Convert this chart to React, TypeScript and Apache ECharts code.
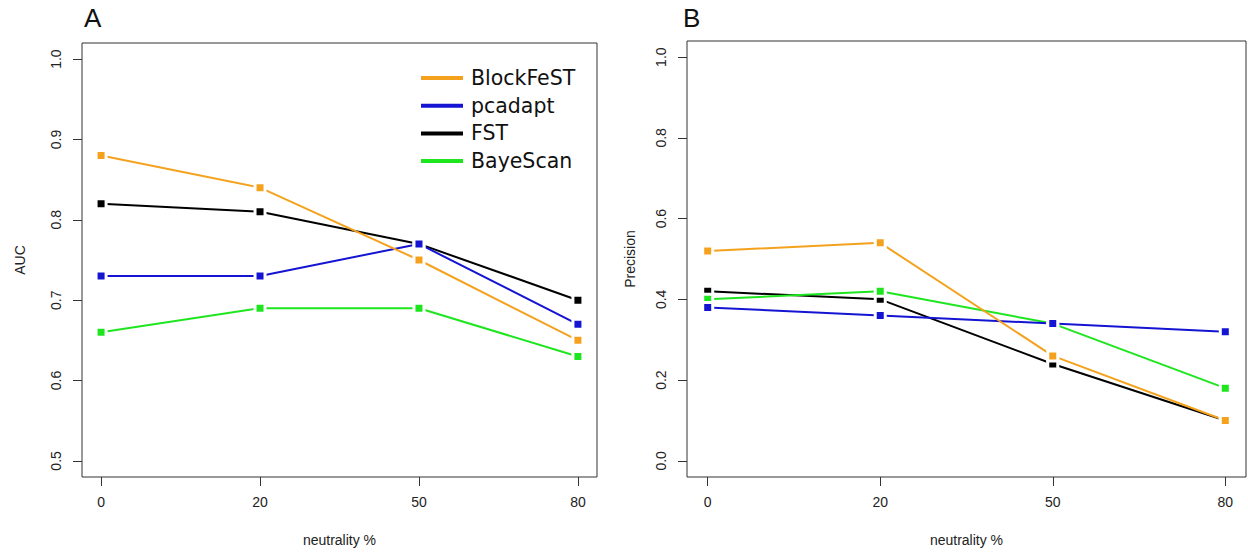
import React, { useEffect, useRef } from "react";
import * as echarts from "echarts";

// neutrality levels along the x axis (plotted at positions 1..4)
const neutrality = ["0", "20", "50", "80"];
const xPositions = [1, 2, 3, 4];

const methods = ["BlockFeST", "pcadapt", "FST", "BayeScan"];
const methodColors: Record<string, string> = {
  BlockFeST: "#f4a21e",
  pcadapt: "#1414d2",
  FST: "#000000",
  BayeScan: "#1ee61e",
};
// drawing order (later ones sit on top)
const drawOrder = ["FST", "BayeScan", "pcadapt", "BlockFeST"];

// Panel A: AUC
const aucBlockFeST = [0.88, 0.84, 0.75, 0.65];
const aucPcadapt = [0.73, 0.73, 0.77, 0.67];
const aucFST = [0.82, 0.81, 0.77, 0.7];
const aucBayeScan = [0.66, 0.69, 0.69, 0.63];
const aucTicks = [0.5, 0.6, 0.7, 0.8, 0.9, 1.0];

// Panel B: Precision
const precBlockFeST = [0.52, 0.54, 0.26, 0.1];
const precPcadapt = [0.38, 0.36, 0.34, 0.32];
const precFST = [0.42, 0.4, 0.24, 0.1];
const precBayeScan = [0.4, 0.42, 0.34, 0.18];
const precTicks = [0.0, 0.2, 0.4, 0.6, 0.8, 1.0];

const aucData: Record<string, number[]> = {
  BlockFeST: aucBlockFeST,
  pcadapt: aucPcadapt,
  FST: aucFST,
  BayeScan: aucBayeScan,
};
const precData: Record<string, number[]> = {
  BlockFeST: precBlockFeST,
  pcadapt: precPcadapt,
  FST: precFST,
  BayeScan: precBayeScan,
};

const AXIS_FONT = "'Liberation Sans', Arial, sans-serif";
const LEGEND_FONT = "'DejaVu Sans', sans-serif";
const INK = "#333333";

function xAxis(gridIndex: number) {
  return {
    type: "value",
    gridIndex,
    min: 0.88,
    max: 4.12,
    axisLine: { show: false, onZero: false },
    splitLine: { show: false },
    axisTick: {
      show: true,
      customValues: xPositions,
      length: 9,
      lineStyle: { color: INK, width: 1 },
    },
    axisLabel: {
      customValues: xPositions,
      formatter: (v: number) => neutrality[Math.round(v) - 1] ?? "",
      margin: 18,
      fontSize: 14,
      color: "#222",
      fontFamily: AXIS_FONT,
    },
    name: "neutrality %",
    nameLocation: "middle",
    nameGap: 56,
    nameTextStyle: { fontSize: 14, color: "#222", fontFamily: AXIS_FONT },
  };
}

function yAxis(gridIndex: number, min: number, max: number, ticks: number[], name: string, nameGap: number) {
  return {
    type: "value",
    gridIndex,
    min,
    max,
    axisLine: { show: false, onZero: false },
    splitLine: { show: false },
    axisTick: {
      show: true,
      customValues: ticks,
      length: 9,
      lineStyle: { color: INK, width: 1 },
    },
    axisLabel: {
      customValues: ticks,
      formatter: (v: number) => v.toFixed(1),
      rotate: 90,
      margin: 19,
      fontSize: 14,
      color: "#222",
      fontFamily: AXIS_FONT,
    },
    name,
    nameLocation: "middle",
    nameGap,
    nameTextStyle: { fontSize: 14, color: "#222", fontFamily: AXIS_FONT },
  };
}

function makeSeries(values: Record<string, number[]>, axisIndex: number) {
  return drawOrder.map((m) => ({
    type: "line",
    name: m,
    xAxisIndex: axisIndex,
    yAxisIndex: axisIndex,
    data: values[m].map((v, i) => [xPositions[i], v]),
    symbol: "rect",
    symbolSize: 10,
    showSymbol: true,
    lineStyle: { color: methodColors[m], width: 2 },
    itemStyle: { color: methodColors[m], borderColor: "#ffffff", borderWidth: 3 },
    emphasis: { disabled: true },
  }));
}

export default function App() {
  const ref = useRef<HTMLDivElement>(null);

  useEffect(() => {
    if (!ref.current) return;
    const chart = echarts.init(ref.current, undefined, { renderer: "svg" });
    chart.setOption({
      animation: false,
      backgroundColor: "#ffffff",
      title: [
        { text: "A", left: 79, top: 0, textStyle: { fontSize: 26, fontWeight: "normal", color: "#111", fontFamily: AXIS_FONT } },
        { text: "B", left: 678, top: 0, textStyle: { fontSize: 26, fontWeight: "normal", color: "#111", fontFamily: AXIS_FONT } },
      ],
      legend: {
        data: methods,
        orient: "vertical",
        left: 421,
        top: 66,
        padding: 0,
        icon: "rect",
        itemWidth: 42,
        itemHeight: 4,
        itemGap: 3.7,
        selectedMode: false,
        itemStyle: { borderWidth: 0 },
        lineStyle: { width: 0 },
        textStyle: { fontSize: 20.5, lineHeight: 24, color: "#111", fontFamily: LEGEND_FONT, padding: [0, 0, 0, 3] },
      },
      grid: [
        { left: 82, top: 43, width: 515, height: 436, show: true, borderColor: INK, borderWidth: 1, backgroundColor: "transparent" },
        { left: 687, top: 41, width: 559, height: 439, show: true, borderColor: INK, borderWidth: 1, backgroundColor: "transparent" },
      ],
      xAxis: [xAxis(0), xAxis(1)],
      yAxis: [
        yAxis(0, 0.48, 1.02, aucTicks, "AUC", 55),
        yAxis(1, -0.04, 1.04, precTicks, "Precision", 50),
      ],
      series: [...makeSeries(aucData, 0), ...makeSeries(precData, 1)],
    });
    return () => chart.dispose();
  }, []);

  return <div ref={ref} style={{ position: "fixed", left: 0, top: 0, width: 1248, height: 552 }} />;
}
